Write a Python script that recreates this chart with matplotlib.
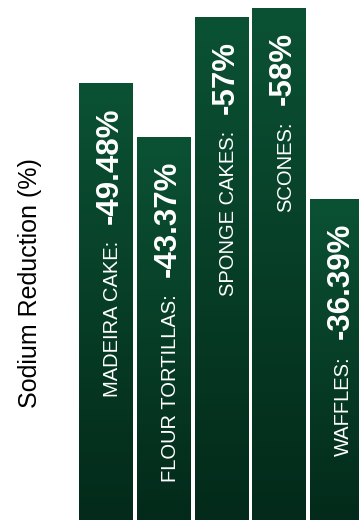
import numpy as np
import matplotlib
matplotlib.use("Agg")
import matplotlib.pyplot as plt
from matplotlib.colors import LinearSegmentedColormap

plt.rcParams["font.family"] = ["Liberation Sans", "DejaVu Sans"]

# data
products = ["MADEIRA CAKE", "FLOUR TORTILLAS", "SPONGE CAKES", "SCONES", "WAFFLES"]
reductions = [49.48, 43.37, 57, 58, 36.39]
value_labels = ["-49.48%", "-43.37%", "-57%", "-58%", "-36.39%"]

W, H, DPI = 359, 521, 100
fig = plt.figure(figsize=(W / DPI, H / DPI), dpi=DPI)
ax = fig.add_axes([79 / W, 1 / H, 280 / W, 520 / H])

px_per_bar = 57.75
x0 = -27.0 / px_per_bar

cmap = LinearSegmentedColormap.from_list("grn", ["#032a1a", "#0b5234"])
grad = np.linspace(0, 1, 256).reshape(-1, 1)

x = np.arange(len(products))
bars = ax.bar(x, reductions, width=0.935, color="none", edgecolor="none")
for b in bars:
    bx, by = b.get_x(), b.get_y()
    bw, bh = b.get_width(), b.get_height()
    im = ax.imshow(grad, cmap=cmap, origin="lower", aspect="auto",
                   extent=[bx, bx + bw, by, by + bh], zorder=1)
    im.set_clip_path(b)

ax.set_xlim(x0, x0 + 280 / px_per_bar)
ax.set_ylim(0, 520 / 8.83)
ax.set_axis_off()

# labels inside bars: bold value near the top, product name below it
fig.canvas.draw()
renderer = fig.canvas.get_renderer()
for i, (name, v, lab) in enumerate(zip(products, reductions, value_labels)):
    t = ax.annotate(lab, xy=(i, v), xytext=(12, -24), textcoords="offset pixels",
                    rotation=90, rotation_mode="anchor", ha="right", va="baseline",
                    color="white", fontsize=22.5, fontweight="bold", zorder=3)
    length = t.get_window_extent(renderer).height
    ax.annotate(name + ":", xy=(i, v), xytext=(12, -24 - length - 17),
                textcoords="offset pixels", rotation=90, rotation_mode="anchor",
                ha="right", va="baseline", color="white", fontsize=14.5, zorder=3)

fig.text(30 / W, 1 - 283 / H, "Sodium Reduction (%)", rotation=90,
         ha="center", va="center", fontsize=18, color="black")

fig.savefig("out.png", dpi=DPI)
